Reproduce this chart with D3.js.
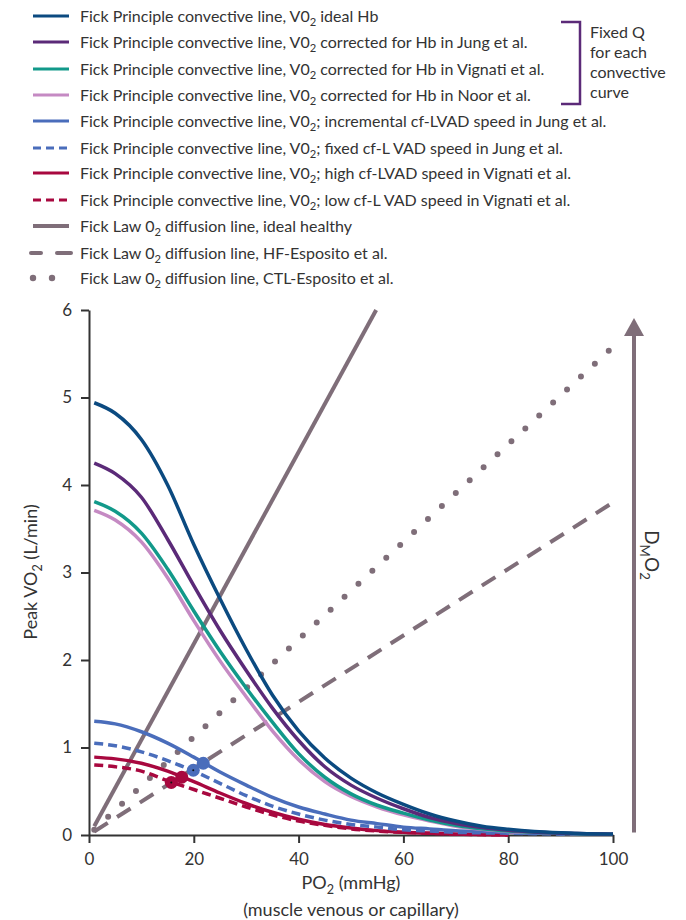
<!DOCTYPE html>
<html>
<head>
<meta charset="utf-8">
<script src="https://cdn.jsdelivr.net/npm/d3@7"></script>
<style>
  body { margin: 0; background: #fff; }
  text { font-family: Lato, "Open Sans", sans-serif; fill: #333; }
</style>
</head>
<body>
<svg id="chart" width="686" height="920"></svg>
<script>
// PO2 sample points (mmHg)
var po2 = [1, 5, 10, 15, 20, 25, 30, 35, 40, 45, 50, 55, 60, 65, 70, 75, 80, 85, 90, 95, 100];

// Peak VO2 (L/min)
var idealHb   = [4.94, 4.82, 4.52, 4.00, 3.32, 2.70, 2.12, 1.60, 1.19, 0.88, 0.65, 0.48, 0.35, 0.24, 0.16, 0.10, 0.065, 0.04, 0.025, 0.015, 0.01];
var jungHb    = [4.25, 4.13, 3.86, 3.38, 2.85, 2.34, 1.88, 1.45, 1.08, 0.78, 0.57, 0.42, 0.30, 0.20, 0.13, 0.085, 0.055, 0.035, 0.02, 0.015, 0.01];
var vignatiHb = [3.81, 3.70, 3.45, 3.04, 2.56, 2.10, 1.68, 1.29, 0.93, 0.66, 0.47, 0.34, 0.25, 0.17, 0.11, 0.07, 0.045, 0.03, 0.02, 0.01, 0.01];
var noorHb    = [3.71, 3.60, 3.35, 2.94, 2.45, 1.99, 1.58, 1.19, 0.86, 0.61, 0.44, 0.32, 0.23, 0.16, 0.10, 0.065, 0.04, 0.03, 0.02, 0.01, 0.01];
var jungIncr  = [1.30, 1.27, 1.18, 1.05, 0.89, 0.72, 0.57, 0.43, 0.32, 0.24, 0.17, 0.13, 0.09, 0.07, 0.05, 0.04, 0.03, 0.02, 0.02, 0.01, 0.01];
var jungFixed = [1.05, 1.02, 0.95, 0.85, 0.73, 0.59, 0.45, 0.33, 0.24, 0.17, 0.12, 0.09, 0.06, 0.045, 0.03, 0.025, 0.02, 0.015, 0.01, 0.01, 0.01];
var vigHigh   = [0.89, 0.87, 0.82, 0.73, 0.61, 0.48, 0.36, 0.26, 0.18, 0.12, 0.08, 0.05, 0.03, 0.02, 0.01, 0.005, 0.0];
var vigLow    = [0.80, 0.78, 0.73, 0.62, 0.52, 0.42, 0.32, 0.23, 0.16, 0.11, 0.07, 0.045, 0.03, 0.02, 0.01, 0.005, 0.0];

// diffusion lines: [PO2, VO2] end points
var diffIdeal = [[1, 0.10], [54.8, 6.0]];
var diffHF    = [[1, 0.04], [100, 3.80]];
var diffCTL   = [[1, 0.06], [100, 5.58]];

// intersections of the LVAD curves with the HF diffusion line
var meetX = [19.9, 21.8, 15.7, 17.7];
var meetY = [0.74, 0.82, 0.60, 0.66];
var meetC = ["#4a6dbb", "#4a6dbb", "#a8083f", "#a8083f"];

var xTicks = [0, 20, 40, 60, 80, 100];
var yTicks = [0, 1, 2, 3, 4, 5, 6];

var legendLabels = [
  "Fick Principle convective line, V0_2 ideal Hb",
  "Fick Principle convective line, V0_2 corrected for Hb in Jung et al.",
  "Fick Principle convective line, V0_2 corrected for Hb in Vignati et al.",
  "Fick Principle convective line, V0_2 corrected for Hb in Noor et al.",
  "Fick Principle convective line, V0_2; incremental cf-LVAD speed in Jung et al.",
  "Fick Principle convective line, V0_2; fixed cf-L VAD speed in Jung et al.",
  "Fick Principle convective line, V0_2; high cf-LVAD speed in Vignati et al.",
  "Fick Principle convective line, V0_2; low cf-L VAD speed in Vignati et al.",
  "Fick Law 0_2 diffusion line, ideal healthy",
  "Fick Law 0_2 diffusion line, HF-Esposito et al.",
  "Fick Law 0_2 diffusion line, CTL-Esposito et al."
];
var noteLines = ["Fixed Q", "for each", "convective", "curve"];

var darkBlue = "#0b4a80", purple = "#5b2a78", teal = "#12998a", pink = "#c58ac3",
    blue = "#4a6dbb", red = "#a8083f", mauve = "#7f6e79";

var series = [
  {v: idealHb, c: darkBlue, t: "solid"},
  {v: jungHb, c: purple, t: "solid"},
  {v: vignatiHb, c: teal, t: "solid"},
  {v: noorHb, c: pink, t: "solid"},
  {v: jungIncr, c: blue, t: "solid"},
  {v: jungFixed, c: blue, t: "dash"},
  {v: vigHigh, c: red, t: "solid"},
  {v: vigLow, c: red, t: "dash"}
];
var diffusion = [
  {v: diffIdeal, c: mauve, t: "solid"},
  {v: diffHF, c: mauve, t: "long"},
  {v: diffCTL, c: mauve, t: "dot"}
];

var svg = d3.select("#chart");

var x = d3.scaleLinear().domain([0, 100]).range([89, 613]);
var y = d3.scaleLinear().domain([0, 6]).range([835, 310]);

// text with "_x" subscripts
function subText(sel, str, size) {
  var parts = str.split(/_(\w)/);
  var shift = 0;
  parts.forEach(function(p, i) {
    if (!p) return;
    var ts = sel.append("tspan").text(p);
    if (i % 2 === 1) {
      ts.attr("font-size", size * 0.7).attr("dy", size * 0.28);
      shift = size * 0.28;
    } else if (shift) {
      ts.attr("dy", -shift);
      shift = 0;
    }
  });
}

function dashFor(t) {
  if (t === "dash") return "9 5";
  if (t === "long") return "16 11";
  if (t === "dot") return "0 19";
  return null;
}

// legend
var legend = svg.append("g").attr("class", "legend");
var legendY = [16, 42, 69, 95, 121, 148, 173, 200, 226, 253, 278];
var legendItems = series.concat(diffusion);
legendItems.forEach(function(s, i) {
  var g = legend.append("g").attr("transform", "translate(0," + legendY[i] + ")");
  if (s.t === "dot") {
    g.selectAll("circle").data([33, 52]).enter().append("circle")
      .attr("cx", function(d) { return d; }).attr("cy", 0).attr("r", 3.2).attr("fill", s.c);
  } else if (s.t === "long") {
    g.selectAll("line").data([[31, 41], [57, 71]]).enter().append("line")
      .attr("x1", function(d) { return d[0]; }).attr("x2", function(d) { return d[1]; })
      .attr("stroke", s.c).attr("stroke-width", 4).attr("stroke-linecap", "round");
  } else {
    g.append("line").attr("x1", 33).attr("x2", 69)
      .attr("stroke", s.c).attr("stroke-width", i === 8 ? 4 : 3)
      .attr("stroke-dasharray", s.t === "dash" ? "8 5" : null);
  }
  var t = g.append("text").attr("x", 80).attr("y", 5.5).attr("font-size", 16);
  subText(t, legendLabels[i], 16);
});

// bracket + note
svg.append("path")
  .attr("d", "M561,22H580V104H561")
  .attr("fill", "none").attr("stroke", purple).attr("stroke-width", 2.5);
noteLines.forEach(function(s, i) {
  svg.append("text").attr("x", 590).attr("y", 38 + i * 20).attr("font-size", 16).text(s);
});

// axes
var xAxis = svg.append("g").attr("transform", "translate(0,835)")
  .call(d3.axisBottom(x).tickValues(xTicks).tickFormat(d3.format("d"))
    .tickSize(8).tickSizeOuter(0).tickPadding(10));
var yAxis = svg.append("g").attr("transform", "translate(89,0)")
  .call(d3.axisLeft(y).tickValues(yTicks).tickFormat(d3.format("d"))
    .tickSize(8).tickSizeOuter(0).tickPadding(9));
[xAxis, yAxis].forEach(function(a) {
  a.select(".domain").attr("stroke", "#333").attr("stroke-width", 2);
  a.selectAll(".tick line").attr("stroke", "#333").attr("stroke-width", 2);
  a.selectAll(".tick text").attr("font-size", 17).attr("fill", "#333")
    .attr("font-family", "Lato, 'Open Sans', sans-serif");
});

// axis titles
var xt = svg.append("text").attr("x", 351).attr("y", 889).attr("text-anchor", "middle").attr("font-size", 18);
subText(xt, "PO_2 (mmHg)", 18);
svg.append("text").attr("x", 351).attr("y", 916).attr("text-anchor", "middle").attr("font-size", 18)
  .text("(muscle venous or capillary)");
var yt = svg.append("text").attr("transform", "translate(37,572) rotate(-90)")
  .attr("text-anchor", "middle").attr("font-size", 18);
subText(yt, "Peak VO_2 (L/min)", 18);

// diffusion lines
var line = d3.line().x(function(d) { return x(d[0]); }).y(function(d) { return y(d[1]); });
diffusion.forEach(function(s) {
  svg.append("path").datum(s.v).attr("d", line)
    .attr("fill", "none").attr("stroke", s.c)
    .attr("stroke-width", s.t === "dot" ? 6 : 4)
    .attr("stroke-linecap", s.t === "dot" ? "round" : "butt")
    .attr("stroke-dasharray", dashFor(s.t));
});

// convective curves
var curve = d3.line().curve(d3.curveMonotoneX)
  .x(function(d) { return x(d[0]); }).y(function(d) { return y(d[1]); });
series.slice().reverse().forEach(function(s) {
  var pts = s.v.map(function(v, i) { return [po2[i], v]; });
  svg.append("path").datum(pts).attr("d", curve)
    .attr("fill", "none").attr("stroke", s.c).attr("stroke-width", 3.5)
    .attr("stroke-dasharray", dashFor(s.t));
});

// intersection markers
meetX.forEach(function(mx, i) {
  svg.append("circle").attr("cx", x(mx)).attr("cy", y(meetY[i])).attr("r", 6.5).attr("fill", meetC[i]);
});
[0, 2].forEach(function(i) {
  svg.append("circle").attr("cx", x(meetX[i])).attr("cy", y(meetY[i])).attr("r", 1).attr("fill", "#111");
});

// DMO2 arrow
var ax = 634;
svg.append("line").attr("x1", ax).attr("x2", ax).attr("y1", y(0.03)).attr("y2", 334)
  .attr("stroke", mauve).attr("stroke-width", 4);
svg.append("path").attr("d", "M" + ax + ",318L" + (ax + 10) + ",336L" + (ax - 10) + ",336Z").attr("fill", mauve);
var dl = svg.append("text").attr("transform", "translate(645,555) rotate(90)")
  .attr("text-anchor", "middle").attr("font-size", 19);
subText(dl, "D_MO_2", 19);
</script>
</body>
</html>
